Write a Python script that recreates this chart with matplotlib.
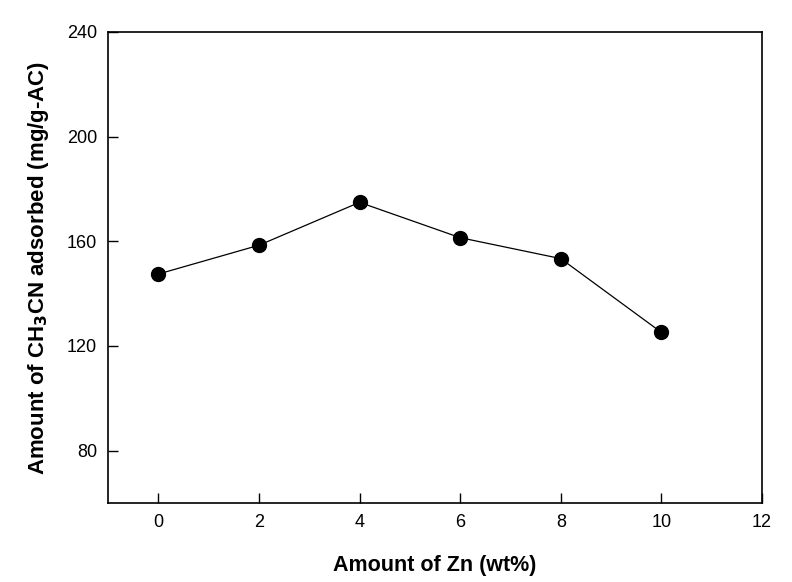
import matplotlib
matplotlib.use("Agg")
import matplotlib.pyplot as plt

zn_wt = [0, 2, 4, 6, 8, 10]
adsorbed = [147.5, 158.5, 174.9, 161.4, 153.4, 125.2]

x_ticks = [0, 2, 4, 6, 8, 10, 12]
y_ticks = [80, 120, 160, 200, 240]

plt.rcParams["font.family"] = ["Liberation Sans", "DejaVu Sans"]

fig = plt.figure(figsize=(7.92, 5.82), dpi=100)
ax = fig.add_axes([108 / 792, 79 / 582, 654 / 792, 471 / 582])

ax.plot(zn_wt, adsorbed, color="black", linewidth=0.9, marker="o",
        markersize=10, markerfacecolor="black", markeredgecolor="black")

ax.set_xlim(-1, 12)
ax.set_ylim(60, 240)
ax.set_xticks(x_ticks)
ax.set_yticks(y_ticks)
ax.tick_params(direction="in", length=7, width=1, labelsize=13, pad=8)

for s in ax.spines.values():
    s.set_linewidth(1.2)

ax.set_xlabel("Amount of Zn (wt%)", fontsize=15.5, fontweight="bold", labelpad=17)
ax.set_ylabel("Amount of CH$_\\mathbf{3}$CN adsorbed (mg/g-AC)", fontsize=16,
              fontweight="bold", labelpad=11)

fig.savefig("out.png", dpi=100)
